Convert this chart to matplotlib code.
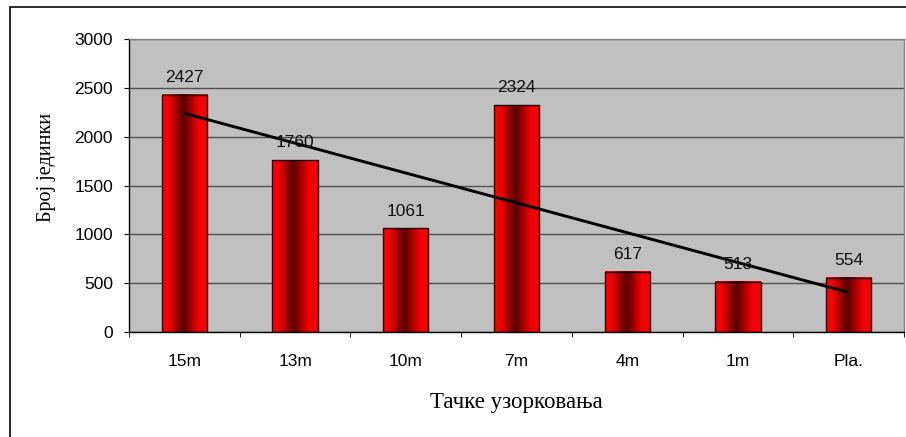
import numpy as np
import matplotlib.pyplot as plt
from matplotlib.colors import LinearSegmentedColormap
from matplotlib.patches import Rectangle

# Samples per sampling point
categories = ["15m", "13m", "10m", "7m", "4m", "1m", "Pla."]
counts = [2427, 1760, 1061, 2324, 617, 513, 554]
yticks = [0, 500, 1000, 1500, 2000, 2500, 3000]

plt.rcParams["font.family"] = ["Liberation Sans", "DejaVu Sans"]
serif = ["Liberation Serif", "DejaVu Serif"]

fig = plt.figure(figsize=(9.06, 4.37), dpi=100)
ax = fig.add_axes([129 / 906, 1 - 332 / 437, 775 / 906, 293 / 437])
ax.set_facecolor("#C0C0C0")

# outer chart frame (runs off the right and bottom edges)
fig.patches.append(Rectangle((10 / 906, -0.05), 1.0, 1 - 7 / 437 + 0.05,
                             transform=fig.transFigure, fill=False,
                             edgecolor="#1a1a1a", linewidth=1.3, zorder=0))

# horizontal red -> dark red -> red gradient
bar_cmap = LinearSegmentedColormap.from_list(
    "cyl", [(0.0, "#FF0000"), (0.13, "#F80000"), (0.47, "#580000"),
            (0.8, "#F00000"), (1.0, "#FF0000")])
grad = np.linspace(0, 1, 128).reshape(1, -1)

x = np.arange(len(categories))
width = 0.41
for xi, v in zip(x, counts):
    ax.imshow(grad, cmap=bar_cmap, aspect="auto", interpolation="bilinear",
              extent=[xi - width / 2, xi + width / 2, 0, v], zorder=2)
    ax.add_patch(Rectangle((xi - width / 2, 0), width, v, fill=False,
                           edgecolor="#200000", linewidth=1.0, zorder=3))
    ax.annotate(str(v), (xi, v), xytext=(0, 7), textcoords="offset points",
                ha="center", va="bottom", fontsize=12.5, color="#111111", zorder=5)

# linear trend line
coef = np.polyfit(x + 1, counts, 1)
trend = np.polyval(coef, x + 1)
ax.plot([x[0], x[-1]], [trend[0], trend[-1]], color="black", linewidth=2.1,
        solid_capstyle="butt", zorder=4)

ax.set_xlim(-0.5, len(categories) - 0.5)
ax.set_ylim(0, 3000)
ax.set_yticks(yticks)
ax.set_xticks(x)
ax.set_xticklabels(categories)
ax.set_xticks(np.arange(-0.5, len(categories)), minor=True)
ax.tick_params(axis="x", which="major", length=0, pad=15.5, labelsize=12.5)
ax.tick_params(axis="x", which="minor", length=3.6, direction="out", color="black")
ax.tick_params(axis="y", length=3.6, direction="out", pad=8, labelsize=12.5)

ax.grid(axis="y", color="#505050", linewidth=1.0, zorder=1)
ax.set_axisbelow(True)
for side in ["top", "right"]:
    ax.spines[side].set_color("#808080")
    ax.spines[side].set_linewidth(1.0)
for side in ["left", "bottom"]:
    ax.spines[side].set_color("black")
    ax.spines[side].set_linewidth(1.0)

ax.set_ylabel("Број јединки", family=serif, fontsize=14.5)
ax.yaxis.set_label_coords(-0.094, 0.563)
ax.set_xlabel("Тачке узорковања", family=serif, fontsize=16.5, labelpad=17)

fig.savefig("out.png", dpi=100)
